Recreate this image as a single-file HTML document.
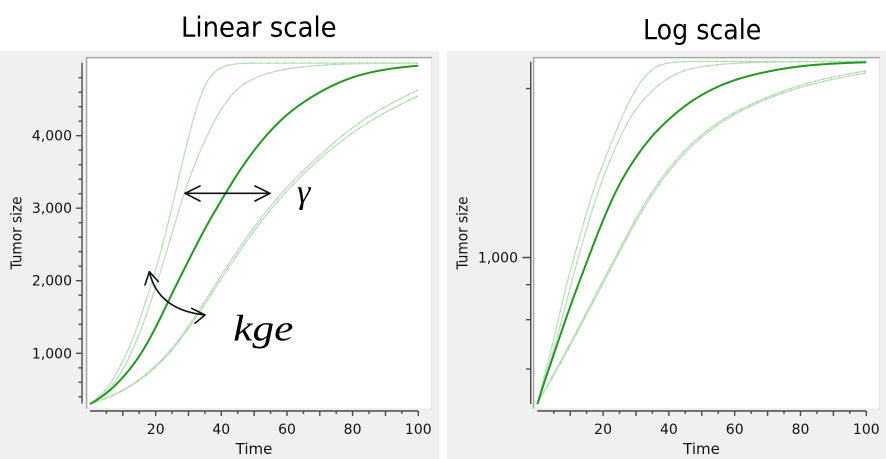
<!DOCTYPE html>
<html><head><meta charset="utf-8">
<style>
html,body{margin:0;padding:0;background:#fff;}
svg{display:block;}
</style></head><body>
<svg id="s" width="886" height="459" viewBox="0 0 886 459" xmlns="http://www.w3.org/2000/svg" font-family="'DejaVu Sans', 'Liberation Sans', sans-serif">
<rect x="0" y="0" width="886" height="459" fill="#ffffff"/>
<rect x="0" y="51" width="439.5" height="408" fill="#f0f0f0"/>
<rect x="447" y="51" width="439" height="408" fill="#f0f0f0"/>
<!-- plot areas -->
<rect x="86" y="57" width="346" height="352" fill="#ffffff"/>
<rect x="533" y="57" width="347" height="352" fill="#ffffff"/>
<path d="M86,57.6 H432 M86.6,57 V409" stroke="#a8a8a8" stroke-width="1.5" fill="none"/>
<path d="M533,57.6 H880 M533.6,57 V409" stroke="#a8a8a8" stroke-width="1.5" fill="none"/>
<path d="M431.5,58 V409 H86" stroke="#e4e4e4" stroke-width="1" fill="none"/>
<path d="M879.5,58 V409 H533" stroke="#e4e4e4" stroke-width="1" fill="none"/>

<!-- titles -->
<text x="258.8" y="36.7" font-size="28" text-anchor="middle" textLength="155.7" lengthAdjust="spacingAndGlyphs" fill="#000">Linear scale</text>
<text x="702.2" y="39" font-size="28" text-anchor="middle" textLength="118.3" lengthAdjust="spacingAndGlyphs" fill="#000">Log scale</text>

<g id="axes" stroke="#4a4a4a" fill="none"></g>
<g id="curves"></g>

<!-- tick labels -->
<g font-size="14" fill="#111" text-anchor="end">
<text x="72" y="358.3">1,000</text>
<text x="72" y="285.7">2,000</text>
<text x="72" y="213.2">3,000</text>
<text x="72" y="140.7">4,000</text>
<text x="518" y="262.5">1,000</text>
</g>
<g font-size="14" fill="#111" text-anchor="middle">
<text x="155.7" y="434">20</text>
<text x="221.3" y="434">40</text>
<text x="287" y="434">60</text>
<text x="352.6" y="434">80</text>
<text x="418.3" y="434">100</text>
<text x="603.1" y="434">20</text>
<text x="668.9" y="434">40</text>
<text x="734.7" y="434">60</text>
<text x="800.5" y="434">80</text>
<text x="866.3" y="434">100</text>
</g>
<g fill="#111" text-anchor="middle">
<text x="254" y="454" font-size="15.5" textLength="36.7" lengthAdjust="spacingAndGlyphs">Time</text>
<text x="701.5" y="454" font-size="15.5" textLength="36.7" lengthAdjust="spacingAndGlyphs">Time</text>
<text transform="translate(21.5,233) rotate(-90)" font-size="15" textLength="73" lengthAdjust="spacingAndGlyphs">Tumor size</text>
<text transform="translate(467.5,233) rotate(-90)" font-size="15" textLength="73" lengthAdjust="spacingAndGlyphs">Tumor size</text>
</g>

<!-- annotations -->
<g stroke="#111" stroke-width="1.6" fill="none" stroke-linecap="round" stroke-linejoin="round">
<path d="M185,193.3 H270"/>
<path d="M200,186 L185,193.3 L200,201"/>
<path d="M255,186 L270,193.3 L255,201"/>
<path d="M149.3,271.7 Q158,310 205,315"/>
<path d="M145,285 L149.3,271.7 L158.3,281.5"/>
<path d="M191.7,308.3 L205,315 L195,323.3"/>
</g>
<text x="297" y="203" font-family="'Liberation Serif', 'DejaVu Serif', serif" font-style="italic" font-size="34" fill="#000">γ</text>
<text x="233.3" y="340.5" font-family="'Liberation Serif', 'DejaVu Serif', serif" font-style="italic" font-size="37" textLength="60" lengthAdjust="spacingAndGlyphs" fill="#000">kge</text>
</svg>
<script>
(function(){
var NS="http://www.w3.org/2000/svg";
function el(tag, attrs, parent){var e=document.createElementNS(NS,tag);for(var k in attrs)e.setAttribute(k,attrs[k]);parent.appendChild(e);return e;}
var axes=document.getElementById('axes');
var curves=document.getElementById('curves');
function LX(t){return 90+3.283*t;}
function LY(v){return 425.8-v*0.07253;}
function RX(t){return 537.3+3.29*t;}
function RY(v){return 257.5-Math.log10(v/1000)*280.5;}
var d="";
d+="M82,62.7 V403.5 ";
d+="M90,411 H418.3 ";
for(var v=400;v<=4800;v+=200){var y=LY(v);var major=(v%1000===0);d+="M"+(major?76:78.5)+","+y.toFixed(1)+" H82 ";}
for(var t=5;t<=100;t+=5){var x=LX(t);d+="M"+x.toFixed(1)+",411 V"+(t%10===0?416:414)+" ";}
d+="M530.7,61.7 V404 ";
d+="M537.3,411 H866.3 ";
[400,600,800,1000,4000].forEach(function(v){var y=RY(v);var major=(v===1000);d+="M"+(major?522.5:526)+","+y.toFixed(1)+" H530.7 ";});
for(var t2=5;t2<=100;t2+=5){var x2=RX(t2);d+="M"+x2.toFixed(1)+",411 V"+(t2%10===0?416:414)+" ";}
el('path',{d:d,'stroke-width':'1.4'},axes);

function mono(pts){
  var n=pts.length,xs=[],ys=[],ds=[],ms=[];
  for(var i=0;i<n;i++){xs.push(pts[i][0]);ys.push(pts[i][1]);}
  for(i=0;i<n-1;i++)ds.push((ys[i+1]-ys[i])/(xs[i+1]-xs[i]));
  ms[0]=ds[0];ms[n-1]=ds[n-2];
  for(i=1;i<n-1;i++){ms[i]=(ds[i-1]*ds[i]<=0)?0:(ds[i-1]+ds[i])/2;}
  for(i=0;i<n-1;i++){
    if(ds[i]===0){ms[i]=0;ms[i+1]=0;continue;}
    var a=ms[i]/ds[i],b=ms[i+1]/ds[i],s=a*a+b*b;
    if(s>9){var tau=3/Math.sqrt(s);ms[i]=tau*a*ds[i];ms[i+1]=tau*b*ds[i];}
  }
  return function(x){
    var k=0;while(k<n-2&&x>xs[k+1])k++;
    var h=xs[k+1]-xs[k],t=(x-xs[k])/h,t2=t*t,t3=t2*t;
    return (2*t3-3*t2+1)*ys[k]+(t3-2*t2+t)*h*ms[k]+(-2*t3+3*t2)*ys[k+1]+(t3-t2)*h*ms[k+1];
  };
}
// sample + gaussian smoothing in ln space with linear extrapolation at ends
function sampled(pts,sigma){
  var f=mono(pts),step=0.5,N=201,raw=[];
  for(var i=0;i<N;i++){raw.push(Math.log(Math.max(300,Math.min(5000,f(i*step)))));}
  var s0=(raw[2]-raw[0])/2, s1=(raw[N-1]-raw[N-3])/2;
  function g(i){if(i<0)return raw[0]+s0*i; if(i>N-1)return raw[N-1]+s1*(i-(N-1)); return raw[i];}
  var W=Math.ceil(3*sigma/step),out=[];
  for(i=0;i<N;i++){
    var sum=0,ws=0;
    for(var j=-W;j<=W;j++){var w=Math.exp(-0.5*Math.pow(j*step/sigma,2));sum+=w*g(i+j);ws+=w;}
    var val=Math.exp(sum/ws);
    out.push([i*step,Math.max(300,Math.min(5000,val))]);
  }
  out[0][1]=Math.exp(raw[0]);
  return out;
}
var data={
 A:[[0,300],[5,510],[10,900],[13.5,1250],[16,1600],[18.6,1950],[20.6,2250],[22.2,2520],[24.2,2870],[25.7,3170],[27.2,3470],[29.3,3860],[32.3,4380],[35.4,4750],[39.4,4930],[44.5,4990],[50,5000],[100,5000]],
 B:[[0,300],[5,470],[10,780],[15,1270],[17.1,1530],[21.1,2080],[24.2,2540],[27.2,3000],[29.3,3300],[34.4,3880],[39.4,4330],[44.5,4630],[50,4790],[55,4870],[60,4920],[70,4970],[80,4990],[100,5000]],
 C:[[0,300],[5,385],[10,495],[15,640],[20,830],[25,1070],[30,1380],[35,1720],[40,2080],[45,2420],[50,2740],[55,3030],[60,3290],[65,3520],[70,3730],[75,3930],[80,4110],[85,4270],[90,4400],[95,4520],[100,4630]],
 D:[[0,300],[5,380],[10,485],[15,625],[20,810],[25,1045],[30,1345],[35,1680],[40,2030],[45,2370],[50,2690],[55,2980],[60,3240],[65,3470],[70,3680],[75,3870],[80,4040],[85,4190],[90,4320],[95,4440],[100,4550]],
 dark:[[0,300],[5,450],[10,670],[15,960],[20,1360],[25,1830],[30,2280],[35,2720],[40,3110],[45,3480],[50,3800],[55,4070],[60,4290],[65,4460],[70,4600],[75,4715],[80,4805],[85,4868],[90,4912],[95,4943],[100,4965]]
};
function pathFrom(s,mx,my){
  var p="";
  for(var i=0;i<s.length;i++){p+=(i===0?"M":"L")+mx(s[i][0]).toFixed(2)+","+my(s[i][1]).toFixed(2);}
  return p;
}
function dotsFrom(s,mx,my,g){
  for(var i=4;i<s.length;i+=5){el('circle',{cx:mx(s[i][0]).toFixed(2),cy:my(s[i][1]).toFixed(2),r:'0.7',fill:'#9fb59f','fill-opacity':'0.6'},g);}
}
['A','B','C','D'].forEach(function(k){
  var s=sampled(data[k],1.5);
  [[LX,LY],[RX,RY]].forEach(function(m){
    el('path',{d:pathFrom(s,m[0],m[1]),stroke:'#bde0bd','stroke-width':'1.3',fill:'none','stroke-linejoin':'round'},curves);
    dotsFrom(s,m[0],m[1],curves);
  });
});
var sd=sampled(data.dark,1.5);
[[LX,LY],[RX,RY]].forEach(function(m){
  el('path',{d:pathFrom(sd,m[0],m[1]),stroke:'#1f9a1f','stroke-width':'2',fill:'none','stroke-linejoin':'round'},curves);
});
})();
</script>
</body></html>
